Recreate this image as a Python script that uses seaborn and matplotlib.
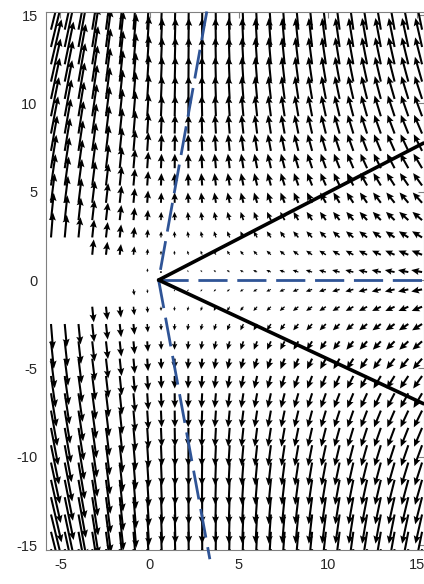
import numpy as np
import matplotlib
matplotlib.use("Agg")
import matplotlib.pyplot as plt
import seaborn as sns

# ---- data ----
x_grid = np.linspace(-5.53, 15.26, 28)      # quiver columns
y_grid = np.linspace(-15.23, 15.15, 32)     # quiver rows
apex = (0.5, 0.0)                            # common vertex of the lines
solid_upper = ([0.5, 15.34], [0.0, 7.75])
solid_lower = ([0.5, 15.34], [0.0, -7.0])
dash_vert = ([3.2, 0.5, 3.37], [15.2, 0.0, -15.8])
dash_horiz = ([0.5, 15.34], [0.0, 0.0])
x_ticks = [-5, 0, 5, 10, 15]
y_ticks = [-15, -10, -5, 0, 5, 10, 15]

# field parameters estimated from the arrows
null_slope = 0.18     # u = 0 on the dashed V (dx = k|y|)
mask_slope = 0.36     # no arrows inside |y| < t * (x0 - x) on the left

sns.set_theme(style="white")
plt.rcParams["font.family"] = ["Liberation Sans", "DejaVu Sans"]

fig = plt.figure(figsize=(4.24, 5.84), dpi=100)
ax = fig.add_axes([46 / 424, 34 / 584, (423.5 - 46) / 424, (550 - 12) / 584])

X, Y = np.meshgrid(x_grid, y_grid)
dx = X - apex[0]
ay = np.abs(Y)
L = np.maximum(0.0, -dx)
u0 = -(dx - null_slope * ay)
g = 1 + L * (0.032 * ay - 0.17)
U = 1.05 * u0 * np.where(dx < 0, g, 1.0) / (1 + 0.03 * ay)
W = (3.0 * Y + 1.5 * np.sign(Y)) * (1 + 2 * L / (ay + 1) ** 1.12)
mask = (dx < 0) & (ay < mask_slope * (-dx))
U = np.where(mask, np.nan, U)
W = np.where(mask, np.nan, W)

ax.quiver(X, Y, U, W, angles="xy", scale_units="xy", scale=25,
          color="black", width=0.0055, headwidth=3.4, headlength=3.8,
          headaxislength=3.3, minshaft=1.4, pivot="tail", zorder=2)

sns.lineplot(x=dash_horiz[0], y=dash_horiz[1], ax=ax, color="#2F5496",
             linewidth=2.0, sort=False, estimator=None, zorder=3)
ax.lines[-1].set_dashes((10.5, 3.5))
sns.lineplot(x=dash_vert[0], y=dash_vert[1], ax=ax, color="#2F5496",
             linewidth=2.0, sort=False, estimator=None, zorder=3)
ax.lines[-1].set_dashes((10.5, 3.5))
ax.lines[-1].set_clip_on(False)
sns.lineplot(x=solid_upper[0], y=solid_upper[1], ax=ax, color="black",
             linewidth=2.6, sort=False, estimator=None, zorder=4)
sns.lineplot(x=solid_lower[0], y=solid_lower[1], ax=ax, color="black",
             linewidth=2.6, sort=False, estimator=None, zorder=4)

ax.set_xlim(-5.81, 15.34)
ax.set_ylim(-15.28, 15.17)
ax.set_xticks(x_ticks)
ax.set_yticks(y_ticks)
ax.set_xticklabels([str(t) for t in x_ticks])
ax.set_yticklabels([str(t) for t in y_ticks])
ax.tick_params(direction="in", length=4, width=0.8, colors="#262626",
               labelsize=10.5, top=True, right=True, pad=6)
ax.tick_params(axis="both", which="both", color="#808080")
for s in ax.spines.values():
    s.set_color("#808080")
    s.set_linewidth(0.8)
ax.set_xlabel("")
ax.set_ylabel("")

fig.savefig("out.png", dpi=100)
